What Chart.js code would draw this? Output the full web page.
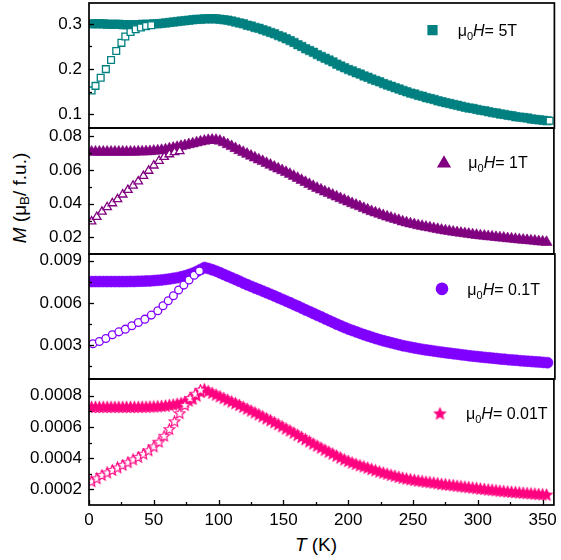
<!DOCTYPE html>
<html>
<head>
<meta charset="utf-8">
<script src="https://cdn.jsdelivr.net/npm/chart.js@4.4.0/dist/chart.umd.min.js"></script>
<style>
  body { margin: 0; background: #fff; }
  #fig { position: relative; width: 561px; height: 560px; overflow: hidden;
         font-family: Arial, "Liberation Sans", sans-serif; color: #000; }
  #fig canvas { position: absolute; left: 0; }
  .ytitle { position: absolute; left: 20px; top: 198px; font-size: 19px; white-space: nowrap;
            transform: translate(-50%, -50%) rotate(-90deg); }
  .xtitle { position: absolute; left: 316px; top: 545px; font-size: 19px; white-space: nowrap;
            transform: translate(-50%, -50%); }
  sub { font-size: 70%; vertical-align: -0.25em; line-height: 0; }
</style>
</head>
<body>
<div id="fig">
  <div class="ytitle"><i>M</i> (μ<sub>B</sub>/ f.u.)</div>
  <div class="xtitle"><i>T</i> (K)</div>
</div>
<script>
"use strict";

// temperatures of the field-cooled sweeps (K)
const tempsFC = [2,5,8,11,14,17,20,23,26,29,32,35,38,41,44,47,50,53,56,59,
  62,65,68,71,74,77,80,83,86,89,92,95,98,101,104,107,110,113,116,119,
  122,125,128,131,134,137,140,143,146,149,152,155,158,161,164,167,170,173,176,179,
  182,185,188,191,194,197,200,203,206,209,212,215,218,221,224,227,230,233,236,239,
  242,245,248,251,254,257,260,263,266,269,272,275,278,281,284,287,290,293,296,299,
  302,305,308,311,314,317,320,323,326,329,332,335,338,341,344,347,350,353];

// 5 T
const fc5T = [.300,.300,.300,.300,.299,.299,.299,.299,.298,.298,
  .298,.298,.298,.299,.299,.299,.300,.300,.301,.302,
  .303,.304,.305,.306,.307,.308,.309,.310,.310,.311,
  .311,.311,.311,.310,.309,.308,.306,.304,.302,.300,
  .297,.295,.292,.290,.287,.284,.281,.278,.274,.271,
  .267,.263,.259,.254,.250,.245,.241,.237,.232,.228,
  .224,.220,.216,.211,.207,.203,.199,.196,.192,.189,
  .185,.182,.178,.175,.172,.168,.165,.162,.159,.156,
  .153,.150,.147,.145,.142,.140,.137,.135,.133,.130,
  .128,.126,.124,.122,.120,.118,.116,.114,.113,.111,
  .109,.108,.106,.104,.103,.101,.100,.098,.097,.095,
  .094,.093,.092,.090,.089,.088,.087,.086];
const zfcTemps5T = [2,5,9,13,17,21,25,28,32,36,40,44,48,355];
const zfc5T = [.153,.163,.181,.200,.220,.240,.258,.272,.282,.288,.292,.295,.297,.086];

// 1 T
const fc1T = [.0708,.0708,.0708,.0708,.0708,.0708,.0708,.0708,.0708,.0708,
  .0708,.0708,.0709,.0709,.0710,.0711,.0713,.0715,.0718,.0721,
  .0727,.0731,.0736,.0741,.0746,.0752,.0757,.0763,.0768,.0773,
  .0777,.0779,.0778,.0773,.0764,.0752,.0741,.0729,.0717,.0706,
  .0695,.0684,.0673,.0662,.0652,.0641,.0630,.0619,.0608,.0598,
  .0587,.0576,.0564,.0552,.0540,.0528,.0516,.0504,.0493,.0483,
  .0472,.0462,.0452,.0442,.0432,.0422,.0412,.0402,.0393,.0384,
  .0373,.0364,.0355,.0347,.0339,.0331,.0323,.0316,.0309,.0302,
  .0294,.0288,.0282,.0277,.0271,.0267,.0262,.0258,.0253,.0249,
  .0244,.0240,.0237,.0233,.0230,.0226,.0223,.0220,.0217,.0214,
  .0211,.0209,.0206,.0204,.0201,.0199,.0197,.0194,.0192,.0190,
  .0187,.0185,.0183,.0181,.0179,.0176,.0174,.0172];
const zfcTemps1T = [2,6,10,14,18,22,26,30,34,38,42,46,50,54,58,62,66,70];
const zfc1T = [.0295,.0322,.0353,.0380,.0403,.0427,.0455,.0482,.0508,.0533,.0565,.0596,.0627,.0655,.0678,.0694,.0706,.0712];

// 0.1 T
const fc01T = [.00752,.00752,.00752,.00752,.00752,.00752,.00752,.00752,.00752,.00752,
  .00753,.00753,.00754,.00755,.00756,.00757,.00759,.00761,.00764,.00767,
  .00771,.00775,.00780,.00786,.00793,.00802,.00812,.00824,.00838,.00852,
  .00845,.00836,.00826,.00814,.00802,.00790,.00778,.00766,.00754,.00741,
  .00729,.00718,.00706,.00695,.00684,.00672,.00661,.00649,.00637,.00625,
  .00613,.00601,.00588,.00576,.00563,.00550,.00538,.00525,.00512,.00500,
  .00487,.00474,.00462,.00449,.00437,.00425,.00414,.00404,.00394,.00384,
  .00374,.00365,.00356,.00347,.00339,.00331,.00324,.00317,.00310,.00303,
  .00296,.00291,.00285,.00280,.00275,.00270,.00266,.00262,.00258,.00254,
  .00250,.00246,.00243,.00239,.00236,.00232,.00229,.00225,.00222,.00219,
  .00216,.00213,.00211,.00208,.00205,.00202,.00200,.00197,.00195,.00193,
  .00190,.00188,.00186,.00184,.00182,.00180,.00178,.00176];
const zfcTemps01T = [3,8,13,18,23,28,33,38,43,48,53,57,61,65,69,73,77,81,85];
const zfc01T = [.00310,.00326,.00348,.00374,.00395,.00414,.00438,.00461,.00485,.00514,.00545,.00580,.00616,.00651,.00692,.00727,.00763,.00797,.00828];

// 0.01 T
const fc001T = [.000725,.000725,.000725,.000725,.000725,.000725,.000725,.000725,.000725,.000725,
  .000725,.000725,.000725,.000726,.000726,.000727,.000728,.000729,.000731,.000733,
  .000737,.000740,.000745,.000750,.000757,.000766,.000778,.000798,.000822,.000838,
  .000826,.000815,.000804,.000793,.000782,.000771,.000760,.000749,.000738,.000726,
  .000714,.000702,.000690,.000677,.000665,.000652,.000640,.000627,.000614,.000601,
  .000587,.000574,.000560,.000546,.000532,.000518,.000504,.000490,.000477,.000464,
  .000451,.000438,.000426,.000413,.000401,.000389,.000379,.000369,.000360,.000351,
  .000344,.000336,.000327,.000319,.000311,.000304,.000297,.000290,.000284,.000277,
  .000271,.000266,.000261,.000257,.000253,.000250,.000246,.000243,.000240,.000236,
  .000231,.000229,.000226,.000223,.000220,.000217,.000214,.000211,.000208,.000205,
  .000202,.000199,.000196,.000194,.000191,.000188,.000186,.000183,.000181,.000179,
  .000177,.000175,.000173,.000171,.000169,.000167,.000165,.000163];
const zfcTemps001T = [2,6,10,14,18,22,26,30,34,38,42,46,50,54,58,62,66,70,74,78,82,86];
const zfc001T = [.000249,.000268,.000289,.000305,.000321,.000337,.000354,.000371,.000389,.000405,.000425,.000447,.000472,.000502,.000540,.000583,.000633,.000685,.000737,.000782,.000810,.000835];

// ticks
const xMajor = [0,50,100,150,200,250,300,350];
const xMinor = [25,75,125,175,225,275,325];
const xLabels = ['0','50','100','150','200','250','300','350'];
const yMajor5T = [0.1,0.2,0.3], yMinor5T = [0.15,0.25], yLabels5T = ['0.1','0.2','0.3'];
const yMajor1T = [0.02,0.04,0.06,0.08], yMinor1T = [0.03,0.05,0.07], yLabels1T = ['0.02','0.04','0.06','0.08'];
const yMajor01T = [0.003,0.006,0.009], yMinor01T = [0.0015,0.0045,0.0075], yLabels01T = ['0.003','0.006','0.009'];
const yMajor001T = [0.0002,0.0004,0.0006,0.0008], yMinor001T = [0.0003,0.0005,0.0007], yLabels001T = ['0.0002','0.0004','0.0006','0.0008'];
const fieldLabels = ['5T','1T','0.1T','0.01T'];

Chart.defaults.font.family = 'Arial, "Liberation Sans", sans-serif';
Chart.defaults.color = '#000';

function makeStar(color, filled, size, outer) {
  const c = document.createElement('canvas');
  c.width = size; c.height = size;
  const g = c.getContext('2d');
  const inner = outer * 0.45;
  g.beginPath();
  for (let k = 0; k < 10; k++) {
    const r = k % 2 ? inner : outer;
    const a = -Math.PI / 2 + k * Math.PI / 5;
    const px = size / 2 + r * Math.cos(a), py = size / 2 + r * Math.sin(a);
    k ? g.lineTo(px, py) : g.moveTo(px, py);
  }
  g.closePath();
  g.fillStyle = filled ? color : '#fff';
  g.fill();
  g.lineWidth = filled ? 0.6 : 1.1;
  g.strokeStyle = color;
  g.stroke();
  return c;
}

const PINK = '#ff0080';
const starFull = makeStar(PINK, true, 15, 6.6);
const starOpen = makeStar(PINK, false, 13, 5.6);

const panels = [
  { top: 3, bottom: 128, min: 0.07, max: 0.346, color: '#008080',
    fc: fc5T, zT: zfcTemps5T, z: zfc5T, major: yMajor5T, minor: yMinor5T, labels: yLabels5T,
    style: 'rect', r: 6, zr: 4.8, legend: { mx: 432.5, my: 27.2, tx: 457.7, ty: 33 } },
  { top: 128, bottom: 254, min: 0.0102, max: 0.085, color: '#800080',
    fc: fc1T, zT: zfcTemps1T, z: zfc1T, major: yMajor1T, minor: yMinor1T, labels: yLabels1T,
    style: 'triangle', r: 6.5, zr: 4.9, legend: { mx: 444, my: 35.5, tx: 468.3, ty: 40.3 } },
  { top: 254, bottom: 379, min: 0.0006, max: 0.00948, color: '#8000ff',
    fc: fc01T, zT: zfcTemps01T, z: zfc01T, major: yMajor01T, minor: yMinor01T, labels: yLabels01T,
    style: 'circle', r: 5.5, zr: 3.9, legend: { mx: 442, my: 34.8, tx: 467.3, ty: 41 } },
  { top: 379, bottom: 505, min: 0.0001, max: 0.000907, color: PINK,
    fc: fc001T, zT: zfcTemps001T, z: zfc001T, major: yMajor001T, minor: yMinor001T, labels: yLabels001T,
    style: starFull, zstyle: starOpen, r: 6.5, zr: 5.5, legend: { mx: 440, my: 35, tx: 466, ty: 40.3 } }
];

// frame, inward ticks and the field label
const deco = {
  id: 'deco',
  afterDraw(chart, args, o) {
    const { ctx, chartArea: a } = chart;
    const p = o.panel;
    ctx.save();
    ctx.strokeStyle = '#000';
    ctx.lineWidth = 1.3;
    const ys = chart.scales.y;
    ys.ticks.forEach(t => {
      const py = Math.round(ys.getPixelForValue(t.value)) + 0.5;
      const len = p.major.includes(t.value) ? 5 : 3;
      ctx.beginPath(); ctx.moveTo(a.left, py); ctx.lineTo(a.left + len, py); ctx.stroke();
    });
    if (o.last) {
      const xs = chart.scales.x;
      xs.ticks.forEach(t => {
        const px = Math.round(xs.getPixelForValue(t.value)) + 0.5;
        const len = xMajor.includes(t.value) ? 5 : 3;
        ctx.beginPath(); ctx.moveTo(px, a.bottom); ctx.lineTo(px, a.bottom - len); ctx.stroke();
      });
    }
    ctx.lineWidth = 1.7;
    ctx.strokeRect(a.left, a.top, a.right - a.left, a.bottom - a.top);

    // legend entry
    const L = p.legend;
    ctx.fillStyle = p.color;
    ctx.strokeStyle = p.color;
    Chart.helpers.drawPoint(ctx, { pointStyle: p.style, radius: p.r, rotation: 0, borderWidth: 0.6 },
      L.mx, a.top + L.my);
    ctx.fillStyle = '#000';
    ctx.textBaseline = 'alphabetic';
    ctx.textAlign = 'left';
    let x = L.tx;
    const base = a.top + L.ty;
    const put = (txt, font, dy) => { ctx.font = font; ctx.fillText(txt, x, base + dy); x += ctx.measureText(txt).width; };
    const fam = Chart.defaults.font.family;
    put('μ', '16px ' + fam, 0);
    put('0', '11px ' + fam, 4);
    put('H', 'italic 16px ' + fam, 0);
    put('= ' + o.field, '16px ' + fam, 0);
    ctx.restore();
  }
};

const PAD = 14;
const fig = document.getElementById('fig');

panels.forEach((p, i) => {
  const last = i === panels.length - 1;
  const canvas = document.createElement('canvas');
  const top = p.top - PAD;
  const height = last ? 560 - top : p.bottom - p.top + 2 * PAD;
  canvas.width = 561; canvas.height = height;
  canvas.style.top = top + 'px';
  fig.appendChild(canvas);

  const fcPts = tempsFC.map((t, k) => ({ x: t, y: p.fc[k] }));
  const zPts = p.zT.map((t, k) => ({ x: t, y: p.z[k] }));

  // the first dataset is painted last, so the open (zero-field-cooled) markers sit on top
  new Chart(canvas.getContext('2d'), {
    type: 'scatter',
    data: {
      datasets: [{
        data: zPts,
        pointStyle: p.zstyle || p.style,
        pointRadius: p.zr,
        pointBackgroundColor: '#fff',
        pointBorderColor: p.color,
        pointBorderWidth: 1.3
      }, {
        data: fcPts,
        pointStyle: p.style,
        pointRadius: p.r,
        pointBackgroundColor: p.color,
        pointBorderColor: p.color,
        pointBorderWidth: 0.6
      }]
    },
    options: {
      responsive: false,
      animation: false,
      events: [],
      layout: { padding: { top: PAD, bottom: last ? 0 : PAD, left: 0, right: 3 } },
      plugins: {
        legend: { display: false },
        tooltip: { enabled: false },
        deco: { panel: p, last: last, field: fieldLabels[i] }
      },
      scales: {
        x: {
          type: 'linear',
          min: 0,
          max: 358.7,
          display: last,
          grid: { display: false, drawTicks: false },
          border: { display: false },
          afterBuildTicks: s => { s.ticks = xMajor.concat(xMinor).map(v => ({ value: v })); },
          afterFit: s => { if (last) { s.height = 560 - p.bottom; } s.paddingLeft = 0; s.paddingRight = 0; },
          ticks: {
            autoSkip: false,
            maxRotation: 0,
            padding: 5,
            font: { size: 17 },
            callback: v => { const k = xMajor.indexOf(v); return k < 0 ? '' : xLabels[k]; }
          }
        },
        y: {
          type: 'linear',
          min: p.min,
          max: p.max,
          grid: { display: false, drawTicks: false },
          border: { display: false },
          afterBuildTicks: s => { s.ticks = p.major.concat(p.minor).map(v => ({ value: v })); },
          afterFit: s => { s.width = 89; s.paddingTop = 0; s.paddingBottom = 0; },
          ticks: {
            autoSkip: false,
            padding: 7,
            font: { size: 17 },
            callback: v => { const k = p.major.indexOf(v); return k < 0 ? '' : p.labels[k]; }
          }
        }
      }
    },
    plugins: [deco]
  });
});
</script>
</body>
</html>
